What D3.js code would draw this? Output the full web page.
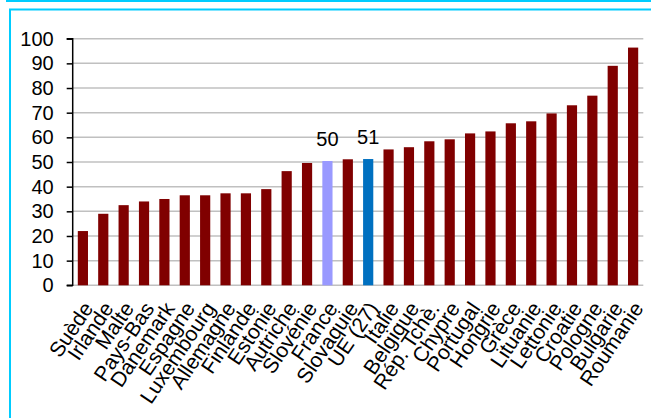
<!DOCTYPE html>
<html><head><meta charset="utf-8">
<script src="https://cdn.jsdelivr.net/npm/d3@7"></script>
<style>body{margin:0;background:#fff}svg{display:block}text{font-family:"Liberation Sans",Arial,sans-serif;fill:#000}</style>
</head><body><svg id="c" width="651" height="418"></svg>
<script>
const categories = ["Suède","Irlande","Malte","Pays-Bas","Danemark","Espagne","Luxembourg","Allemagne","Finlande","Estonie","Autriche","Slovénie","France","Slovaquie","UE (27)","Italie","Belgique","Rép. Tchè.","Chypre","Portugal","Hongrie","Grèce","Lituanie","Lettonie","Croatie","Pologne","Bulgarie","Roumanie"];
const values = [22,29,32.5,34,35,36.5,36.5,37.3,37.3,39,46.3,49.6,50.4,51.1,51.2,55.1,56,58.4,59.2,61.6,62.4,65.7,66.5,69.7,73,76.9,89,96.4];
const highlighted = {"France":"#9999ff","UE (27)":"#0070c0"};
const labelled = {"France":"50","UE (27)":"51"};
const yTicks = [0,10,20,30,40,50,60,70,80,90,100];

const svg = d3.select("#c");
// frame lines
svg.append("line").attr("x1",6).attr("x2",651).attr("y1",1).attr("y2",1).attr("stroke","#00ccff").attr("stroke-width",2);
svg.append("path").attr("d","M10,418 V9.5 H651").attr("fill","none").attr("stroke","#00ccff").attr("stroke-width",2);

const x = d3.scaleBand().domain(categories).range([72.7,643.3]).paddingInner(0.5).paddingOuter(0.25);
const y = d3.scaleLinear().domain([0,100]).range([285.3,38.7]);

// gridlines
svg.append("g").selectAll("line").data(yTicks.slice(1)).join("line")
  .attr("x1",72.7).attr("x2",643.3).attr("y1",d=>y(d)).attr("y2",d=>y(d))
  .attr("stroke","#c0c0c0").attr("stroke-width",1.5);
svg.append("line").attr("x1",72.7).attr("x2",643.3).attr("y1",y(0)).attr("y2",y(0)).attr("stroke","#c0c0c0").attr("stroke-width",1.5);

// bars
svg.append("g").selectAll("rect").data(categories).join("rect")
  .attr("x",d=>x(d)).attr("width",x.bandwidth())
  .attr("y",(d,i)=>y(values[i])).attr("height",(d,i)=>y(0)-y(values[i]))
  .attr("fill",d=>highlighted[d]||"#800000");

// value labels
svg.append("g").selectAll("text").data(categories.filter(d=>labelled[d])).join("text")
  .attr("x",d=>x(d)+x.bandwidth()/2).attr("y",d=>y(values[categories.indexOf(d)])-15)
  .attr("text-anchor","middle").attr("font-size","20px").text(d=>labelled[d]);

// y axis
const ya = svg.append("g").attr("transform","translate(72.7,0)")
  .call(d3.axisLeft(y).tickValues(yTicks).tickSize(6).tickPadding(13));
ya.select(".domain").attr("stroke","#000").attr("stroke-width",1.5).attr("d","M-6,"+y(100)+"H0V"+y(0)+"H-6");
ya.selectAll(".tick line").attr("stroke","#000").attr("stroke-width",1.5);
ya.selectAll(".tick text").attr("font-size","20px").attr("font-family","Liberation Sans, Arial, sans-serif").attr("fill","#000");

// x labels
svg.append("g").selectAll("text").data(categories).join("text")
  .attr("transform",d=>`translate(${x(d)+x.bandwidth()/2+5},${y(0)+19}) rotate(-56)`)
  .attr("text-anchor","end").attr("font-size","21px").attr("dy","0.35em").text(d=>d);
</script></body></html>
